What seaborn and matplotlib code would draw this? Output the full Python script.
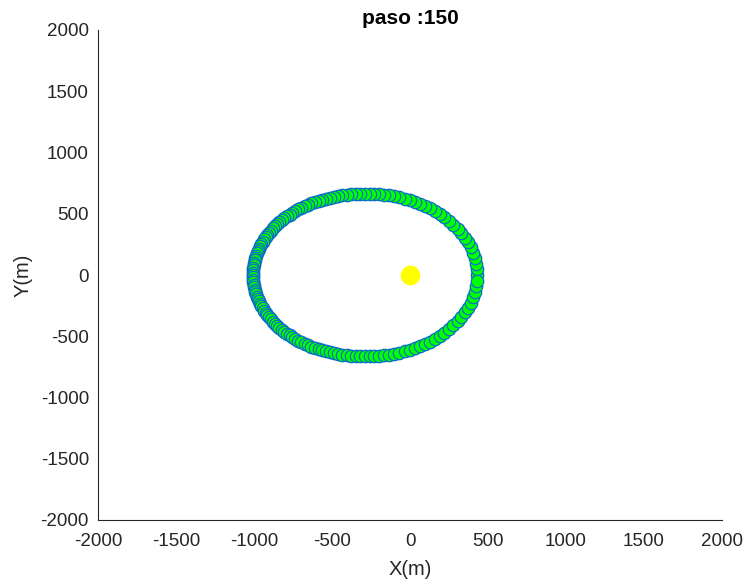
import numpy as np
import pandas as pd
import matplotlib
matplotlib.use("Agg")
import matplotlib.pyplot as plt
import seaborn as sns

# Orbit positions (m) (upper half then lower half)
orbit_x_upper = [432, 430, 425, 416, 405, 390, 372, 352, 329, 305,
                 278, 250, 221, 191, 160, 128, 96, 63, 30, -3,
                 -35, -68, -101, -133, -165, -197, -228, -259, -289, -319,
                 -349, -377, -406, -433, -460, -487, -513, -538, -562, -586,
                 -609, -632, -654, -675, -696, -716, -735, -754, -771, -789,
                 -805, -821, -837, -851, -865, -879, -891, -903, -915, -925,
                 -935, -945, -953, -962, -969, -976, -982, -987, -992, -996,
                 -1000, -1003, -1005, -1007, -1008, -1008]
orbit_y_upper = [0, 46, 92, 138, 182, 225, 266, 305, 343, 378,
                 411, 442, 470, 497, 521, 543, 563, 581, 596, 610,
                 623, 633, 642, 649, 655, 660, 663, 664, 665, 664,
                 663, 660, 656, 651, 646, 639, 632, 624, 615, 605,
                 595, 584, 573, 561, 548, 535, 521, 507, 493, 478,
                 462, 447, 431, 414, 397, 380, 363, 345, 328, 309,
                 291, 273, 254, 235, 216, 197, 178, 158, 139, 119,
                 99, 79, 60, 40, 20, 0]
orbit_x_lower = [-1008, -1007, -1005, -1003, -1000, -996, -992, -987, -982, -976,
                 -969, -962, -953, -945, -935, -925, -915, -903, -891, -879,
                 -865, -851, -837, -821, -805, -789, -771, -754, -735, -716,
                 -696, -675, -654, -632, -609, -586, -562, -538, -513, -487,
                 -460, -433, -406, -377, -349, -319, -289, -259, -228, -197,
                 -165, -133, -101, -68, -35, -3, 30, 63, 96, 128,
                 160, 191, 221, 250, 278, 305, 329, 352, 372, 390,
                 405, 416, 425, 430]
orbit_y_lower = [-20, -40, -60, -79, -99, -119, -139, -158, -178, -197,
                 -216, -235, -254, -273, -291, -309, -328, -345, -363, -380,
                 -397, -414, -431, -447, -462, -478, -493, -507, -521, -535,
                 -548, -561, -573, -584, -595, -605, -615, -624, -632, -639,
                 -646, -651, -656, -660, -663, -664, -665, -664, -663, -660,
                 -655, -649, -642, -633, -623, -610, -596, -581, -563, -543,
                 -521, -497, -470, -442, -411, -378, -343, -305, -266, -225,
                 -182, -138, -92, -46]
sun_x = [0]
sun_y = [0]
ticks = [-2000, -1500, -1000, -500, 0, 500, 1000, 1500, 2000]
title_text = "paso :150"

orbit = pd.DataFrame({"x": orbit_x_upper + orbit_x_lower,
                      "y": orbit_y_upper + orbit_y_lower})
sun = pd.DataFrame({"x": sun_x, "y": sun_y})

sns.set_theme(style="white")
plt.rcParams['font.family'] = ['Liberation Sans', 'DejaVu Sans']
plt.rcParams['axes.unicode_minus'] = False

fig = plt.figure(figsize=(7.46, 5.86), dpi=100)
ax = fig.add_axes([98/746, 1-520/586, 624/746, 490/586])

sns.scatterplot(data=orbit, x="x", y="y", ax=ax, s=80, color="#00ff00",
                edgecolor="#0a6cc8", linewidth=0.9, legend=False, zorder=3)
sns.scatterplot(data=sun, x="x", y="y", ax=ax, s=200, color="#ffff00",
                edgecolor="#ffff00", linewidth=0, legend=False, zorder=4)

ax.set_xlim(-2000, 2000)
ax.set_ylim(-2000, 2000)
ax.set_xticks(ticks)
ax.set_yticks(ticks)
ax.set_xticklabels([str(t) for t in ticks])
ax.set_yticklabels([str(t) for t in ticks])
axc = "#262626"
for s in ["top", "right"]:
    ax.spines[s].set_visible(False)
for s in ["left", "bottom"]:
    ax.spines[s].set_color(axc)
    ax.spines[s].set_linewidth(0.8)
ax.tick_params(axis="both", direction="in", length=5, width=0.8, color=axc,
               labelcolor=axc, labelsize=13.5)
ax.tick_params(axis="x", pad=9.5)
ax.tick_params(axis="y", pad=6.5)
ax.set_xlabel("X(m)", fontsize=14.5, color=axc, labelpad=7)
ax.set_ylabel("Y(m)", fontsize=14.5, color=axc, labelpad=6)
ax.set_title(title_text, fontsize=15, fontweight="bold", color="black", pad=4)
ax.grid(False)
fig.savefig("out.png", dpi=100)
